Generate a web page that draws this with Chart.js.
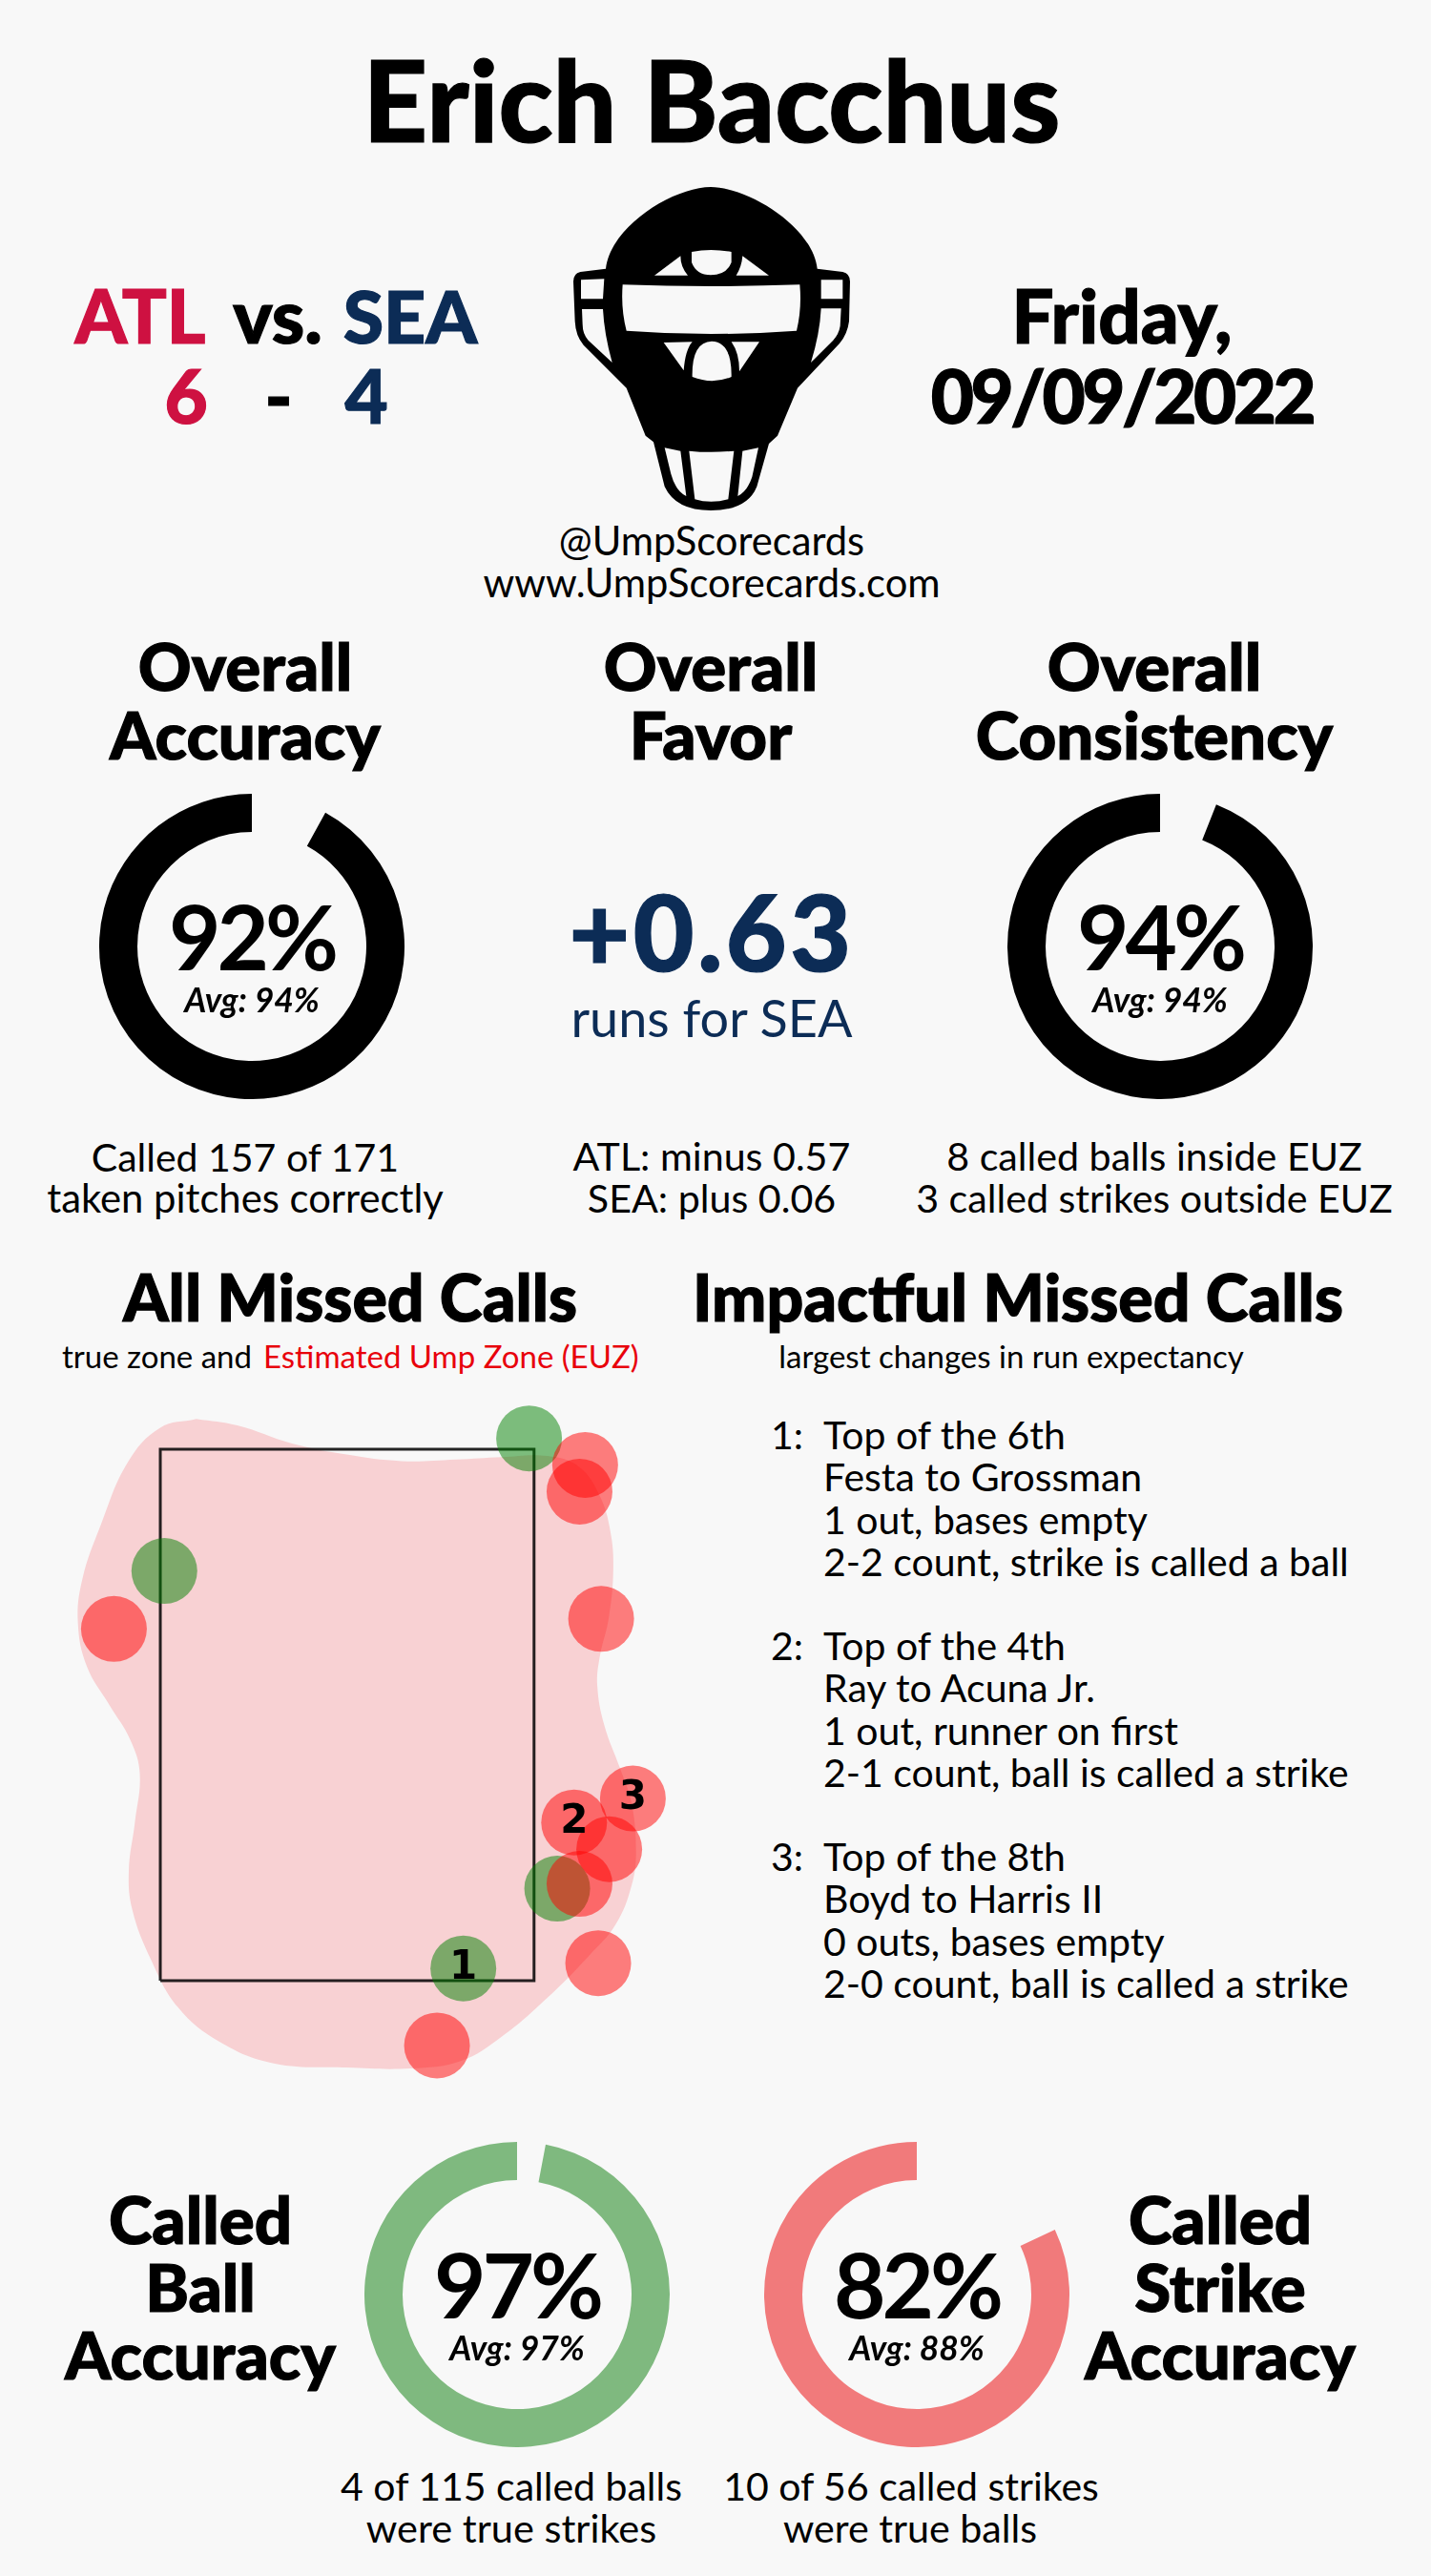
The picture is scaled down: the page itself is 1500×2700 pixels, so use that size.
<!DOCTYPE html>
<html>
<head>
<meta charset="utf-8">
<title>Erich Bacchus</title>
<script src="https://cdn.jsdelivr.net/npm/chart.js@4"></script>
<style>
  html, body { margin: 0; padding: 0; background: #f8f8f8; }
  #page { position: relative; width: 1500px; height: 2700px; overflow: hidden; font-family: Lato, sans-serif; color: #000; }
  #page canvas { position: absolute; }
  #mask { position: absolute; left: 500px; top: 150px; width: 500px; height: 500px; }
  .txt { position: absolute; white-space: nowrap; line-height: 1; }
</style>
</head>
<body>
<div id="page">
  <svg id="mask" viewBox="0 0 1500 1500">
    <path fill="#000" fill-rule="evenodd" d="M735 138 C850 138 1055 260 1070 395 L1150 405 Q1173 410 1173 435 L1170 560 Q1165 600 1140 630 L1008 770 L945 920 L918 945 L880 1080 Q850 1155 735 1155 Q625 1155 590 1080 L555 940 L530 920 L470 770 L335 635 Q310 605 308 560 L303 435 Q303 410 325 405 L405 395 C420 260 620 138 735 138 Z
    M1082 430 L1150 430 L1150 490 L1082 490 Z
    M1082 520 L1145 520 L1142 575 Q1138 600 1120 620 L1050 690 Q1078 600 1082 520 Z
    M327 430 L400 427 L396 490 L327 490 Z
    M330 522 L396 522 Q400 600 425 690 L350 620 Q332 600 332 570 Z
    M558 416 L640 355 Q640 390 663 416 Z
    M675 342 Q735 330 800 342 L800 375 Q785 415 735 415 Q690 415 675 375 Z
    M835 355 L918 416 L815 416 Q832 390 835 355 Z
    M458 445 Q735 455 1015 445 Q1022 520 1005 590 Q735 610 470 590 Q452 520 458 445 Z
    M587 627 L677 625 Q655 650 650 715 Z
    M677 735 Q675 625 738 623 Q802 625 800 735 Q740 760 677 735 Z
    M800 625 L888 625 L825 718 Q825 660 800 625 Z
    M590 958 L640 968 L658 1110 Q625 1095 610 1040 Z
    M667 968 Q735 975 808 968 L790 1120 Q735 1135 685 1120 Z
    M835 968 L885 958 L865 1050 Q850 1095 820 1110 Z"/>
  </svg>
</div>

<script>
// gauge values: [part left open, part drawn]
const overallAccuracy = [8, 92];
const overallConsistency = [6, 94];
const calledBallAccuracy = [3, 97];
const calledStrikeAccuracy = [18, 82];

// called balls that were true strikes (plate x, height in ft)
const ballMissX = [0.808, -0.812, 0.933, 0.516];
const ballMissY = [3.855, 3.304, 1.983, 1.651];
const ballMissLabels = ['', '', '', '1'];

// called strikes that were true balls
const strikeMissX = [1.057, 1.032, 1.128, -1.036, 1.008, 1.269, 1.164, 1.032, 1.115, 0.399];
const strikeMissY = [3.745, 3.634, 3.105, 3.063, 2.258, 2.358, 2.147, 2.003, 1.673, 1.331];
const strikeMissLabels = ['', '', '', '', '2', '3', '', '', '', ''];

// true zone corners
const zoneX = [-0.83, 0.83, 0.83, -0.83, -0.83];
const zoneY = [1.6, 1.6, 3.81, 3.81, 1.6];

// estimated ump zone outline
const euzX = [-0.670, -0.488, -0.245, -0.002, 0.241, 0.484, 0.686, 0.889, 1.030, 1.122, 1.168, 1.182, 1.162, 1.122, 1.111, 1.142, 1.213, 1.263, 1.283, 1.263, 1.192, 1.071, 0.889, 0.686, 0.504, 0.281, -0.002, -0.326, -0.569, -0.751, -0.873, -0.954, -0.970, -0.943, -0.921, -0.964, -1.055, -1.156, -1.196, -1.176, -1.095, -0.974, -0.832, -0.670];
const euzY = [3.936, 3.909, 3.834, 3.788, 3.761, 3.768, 3.778, 3.782, 3.737, 3.616, 3.474, 3.312, 3.109, 2.947, 2.826, 2.663, 2.481, 2.339, 2.137, 1.995, 1.833, 1.701, 1.529, 1.367, 1.266, 1.235, 1.239, 1.256, 1.347, 1.489, 1.691, 1.894, 2.056, 2.258, 2.461, 2.603, 2.745, 2.907, 3.089, 3.271, 3.494, 3.757, 3.899, 3.936];

const BLACK = '#000000';
const NAVY = '#0c2c56';
const CRIMSON = '#ce1141';
const RED_TEXT = '#e8000b';
const GREEN_RING = '#7fb97f';
const RED_RING = '#f17a7b';

const page = document.getElementById('page');

// y is the text baseline
function addText(str, x, y, size, weight, color, align, italic, spacing) {
    const el = document.createElement('div');
    el.className = 'txt';
    el.textContent = str;
    el.style.fontSize = size + 'px';
    el.style.fontWeight = weight;
    el.style.color = color || BLACK;
    el.style.left = x + 'px';
    el.style.top = (y - 0.887 * size) + 'px';
    if (italic) el.style.fontStyle = 'italic';
    if (spacing) el.style.letterSpacing = spacing + 'px';
    // heaviest installed Lato is a little lighter than the headings here
    if (weight === 900) el.style.webkitTextStroke = '1.2px ' + (color || BLACK);
    if (align !== 'left') el.style.transform = 'translateX(-50%)';
    page.appendChild(el);
}

function addGauge(values, color, cx, cy, label, avg) {
    const canvas = document.createElement('canvas');
    canvas.width = 320;
    canvas.height = 320;
    canvas.style.left = (cx - 160) + 'px';
    canvas.style.top = (cy - 160) + 'px';
    canvas.style.width = '320px';
    canvas.style.height = '320px';
    page.appendChild(canvas);

    new Chart(canvas, {
        type: 'doughnut',
        data: {
            datasets: [{
                data: values,
                backgroundColor: ['rgba(0,0,0,0)', color],
                borderWidth: 0
            }]
        },
        options: {
            responsive: false,
            animation: false,
            cutout: '75%',
            plugins: { legend: { display: false }, tooltip: { enabled: false } }
        }
    });

    addText(label, cx, cy + 25, 94, 700, BLACK, 'center', false, -4);
    addText(avg, cx, cy + 69, 35.5, 700, BLACK, 'center', true);
}

function toPoints(xs, ys) {
    return xs.map((x, i) => ({ x: x, y: ys[i] }));
}

// numbers on the three most impactful misses
const missLabelPlugin = {
    id: 'missLabels',
    afterDatasetsDraw(chart) {
        const ctx = chart.ctx;
        ctx.save();
        ctx.font = 'bold 42px "DejaVu Sans"';
        ctx.fillStyle = BLACK;
        ctx.textAlign = 'center';
        ctx.textBaseline = 'middle';
        chart.data.datasets.forEach((ds, i) => {
            if (!ds.missLabels) return;
            chart.getDatasetMeta(i).data.forEach((pt, j) => {
                if (ds.missLabels[j]) ctx.fillText(ds.missLabels[j], pt.x, pt.y);
            });
        });
        ctx.restore();
    }
};

function addZoneChart() {
    const canvas = document.createElement('canvas');
    canvas.width = 750;
    canvas.height = 800;
    canvas.style.left = '0px';
    canvas.style.top = '1450px';
    canvas.style.width = '750px';
    canvas.style.height = '800px';
    page.appendChild(canvas);

    new Chart(canvas, {
        type: 'scatter',
        data: {
            datasets: [
                {
                    data: toPoints(strikeMissX, strikeMissY),
                    missLabels: strikeMissLabels,
                    backgroundColor: 'rgba(255,0,0,0.5)',
                    pointRadius: 34.5,
                    pointBorderWidth: 0,
                    order: 1
                },
                {
                    data: toPoints(ballMissX, ballMissY),
                    missLabels: ballMissLabels,
                    backgroundColor: 'rgba(0,128,0,0.5)',
                    pointRadius: 34.5,
                    pointBorderWidth: 0,
                    order: 2
                },
                {
                    data: toPoints(zoneX, zoneY),
                    showLine: true,
                    borderColor: 'rgba(0,0,0,0.85)',
                    borderWidth: 3,
                    pointRadius: 0,
                    order: 3
                },
                {
                    data: toPoints(euzX, euzY),
                    showLine: true,
                    fill: 'shape',
                    tension: 0.4,
                    borderWidth: 0,
                    backgroundColor: '#f8d1d3',
                    pointRadius: 0,
                    order: 4
                }
            ]
        },
        options: {
            responsive: false,
            animation: false,
            layout: { padding: 0, autoPadding: false },
            scales: {
                x: { display: false, min: -1.542, max: 1.636 },
                y: { display: false, min: 0.910, max: 4.084 }
            },
            plugins: { legend: { display: false }, tooltip: { enabled: false } }
        },
        plugins: [missLabelPlugin]
    });
}

// header
addText('Erich Bacchus', 746, 150, 118, 900);
addText('ATL', 147, 360, 78, 900, CRIMSON);
addText('vs.', 291, 360, 78, 900);
addText('SEA', 430, 360, 77, 900, NAVY);
addText('6', 195, 444, 78, 900, CRIMSON);
addText('-', 292, 444, 78, 900);
addText('4', 384, 444, 78, 900, NAVY);
addText('Friday,', 1176, 360, 78, 900);
addText('09/09/2022', 1176, 444, 78, 900, BLACK, 'center', false, -3.5);
addText('@UmpScorecards', 746, 583, 41.7, 400);
addText('www.UmpScorecards.com', 746, 627, 41.7, 400);

// overall section
addText('Overall', 257, 724, 69, 900);
addText('Accuracy', 257, 796, 69, 900);
addText('Overall', 745, 724, 69, 900);
addText('Favor', 745, 796, 69, 900);
addText('Overall', 1210, 724, 69, 900);
addText('Consistency', 1210, 796, 69, 900);

addGauge(overallAccuracy, BLACK, 264, 992, '92%', 'Avg: 94%');
addGauge(overallConsistency, BLACK, 1216, 992, '94%', 'Avg: 94%');

addText('+0.63', 746, 1018, 110, 900, NAVY, 'center', false, 3.5);
addText('runs for SEA', 746, 1088, 54, 400, NAVY);

addText('Called 157 of 171', 257, 1228, 41, 400);
addText('taken pitches correctly', 257, 1272, 41.8, 400);
addText('ATL: minus 0.57', 746, 1228, 41.2, 400);
addText('SEA: plus 0.06', 746, 1272, 41.2, 400);
addText('8 called balls inside EUZ', 1210, 1228, 41.2, 400);
addText('3 called strikes outside EUZ', 1210, 1272, 41.2, 400);

// missed calls
addText('All Missed Calls', 367, 1385, 68, 900);
addText('Impactful Missed Calls', 1067, 1385, 68, 900);
addText('true zone and', 65, 1434, 33, 400, BLACK, 'left');
addText('Estimated Ump Zone (EUZ)', 276, 1434, 33, 400, RED_TEXT, 'left');
addText('largest changes in run expectancy', 1060, 1434, 33, 400);

addZoneChart();

const missNumbers = ['1:', '2:', '3:'];
const missLines = [
    ['Top of the 6th', 'Festa to Grossman', '1 out, bases empty', '2-2 count, strike is called a ball'],
    ['Top of the 4th', 'Ray to Acuna Jr.', '1 out, runner on first', '2-1 count, ball is called a strike'],
    ['Top of the 8th', 'Boyd to Harris II', '0 outs, bases empty', '2-0 count, ball is called a strike']
];
missLines.forEach((lines, i) => {
    const top = 1519 + i * 221;
    addText(missNumbers[i], 808, top, 41, 400, BLACK, 'left');
    lines.forEach((line, j) => addText(line, 863, top + j * 44.5, 41, 400, BLACK, 'left'));
});

// called ball / strike section
addText('Called', 210, 2352, 69, 900);
addText('Ball', 210, 2423, 69, 900);
addText('Accuracy', 210, 2494, 69, 900);
addText('Called', 1279, 2352, 69, 900);
addText('Strike', 1279, 2423, 69, 900);
addText('Accuracy', 1279, 2494, 69, 900);

addGauge(calledBallAccuracy, GREEN_RING, 542, 2405, '97%', 'Avg: 97%');
addGauge(calledStrikeAccuracy, RED_RING, 961, 2405, '82%', 'Avg: 88%');

addText('4 of 115 called balls', 536, 2621, 41, 400);
addText('were true strikes', 536, 2666, 41.5, 400);
addText('10 of 56 called strikes', 955, 2621, 41, 400);
addText('were true balls', 954, 2666, 41.2, 400);
</script>
</body>
</html>
